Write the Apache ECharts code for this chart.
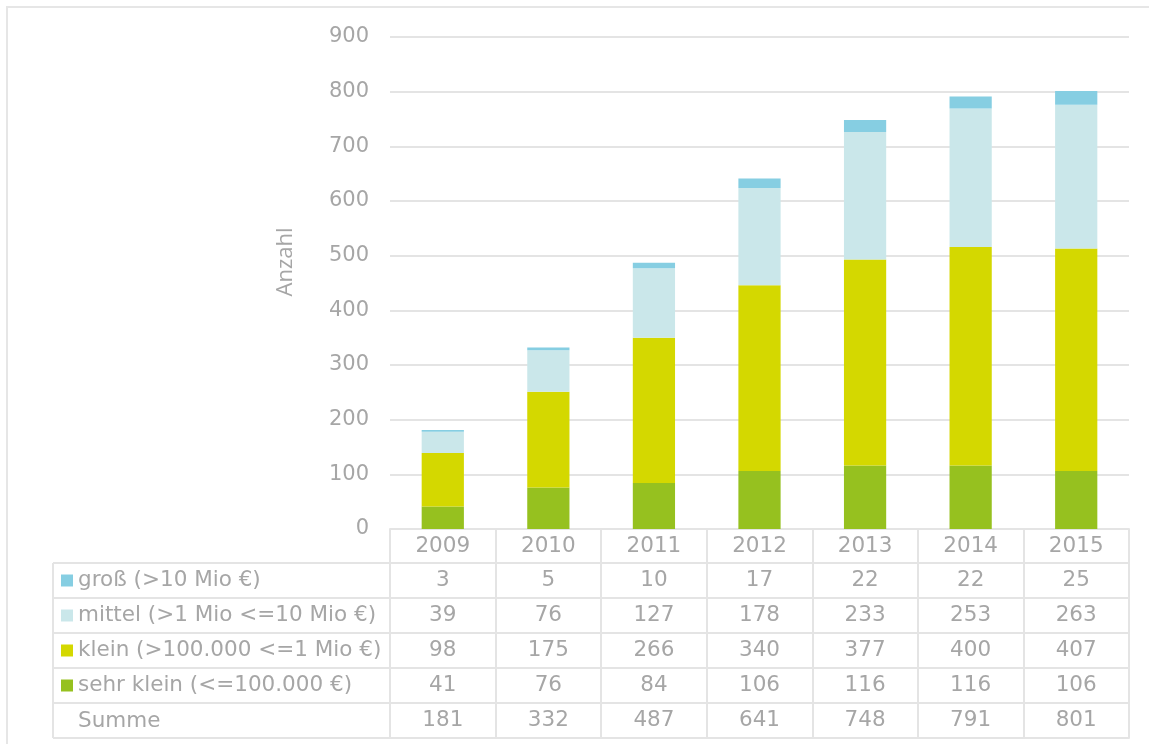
<!DOCTYPE html>
<html>
<head>
<meta charset="utf-8">
<script src="https://cdn.jsdelivr.net/npm/echarts@6/dist/echarts.min.js"></script>
<style>
  html, body { margin: 0; padding: 0; background: #ffffff; }
  #chart { width: 1149px; height: 744px; }
</style>
</head>
<body>
<div id="chart"></div>
<script>
// Anzahl nach Größenklasse und Jahr
const years = ['2009', '2010', '2011', '2012', '2013', '2014', '2015'];
const gross = [3, 5, 10, 17, 22, 22, 25];
const mittel = [39, 76, 127, 178, 233, 253, 263];
const klein = [98, 175, 266, 340, 377, 400, 407];
const sehrKlein = [41, 76, 84, 106, 116, 116, 106];
const yTicks = [0, 100, 200, 300, 400, 500, 600, 700, 800, 900];

const names = {
  gross: 'groß (>10 Mio €)',
  mittel: 'mittel (>1 Mio <=10 Mio €)',
  klein: 'klein (>100.000 <=1 Mio €)',
  sehrKlein: 'sehr klein (<=100.000 €)'
};
const colors = {
  gross: '#86cee2',
  mittel: '#cae7ea',
  klein: '#d4d800',
  sehrKlein: '#96c11f'
};

const summe = years.map((_, i) => gross[i] + mittel[i] + klein[i] + sehrKlein[i]);

const TEXT = '#a6a6a6';
const LINE = '#e4e4e4';
const FONT = 'DejaVu Sans';
const FS = 21.5;

// table rows below the plot: header row, then one row per series + sum
const rowH = 35;
const headerH = 34;
const tableRows = [gross, mittel, klein, sehrKlein, summe];

function rowAxis(values, offset, showLabel) {
  return {
    type: 'category',
    position: 'bottom',
    offset: offset,
    data: values.map(String),
    axisLine: { show: true, lineStyle: { color: LINE, width: 2 } },
    axisTick: {
      show: showLabel, interval: 0, alignWithLabel: false,
      length: rowH, lineStyle: { color: LINE, width: 2 }
    },
    axisLabel: {
      show: showLabel, interval: 0, margin: 7,
      color: TEXT, fontFamily: FONT, fontSize: FS, lineHeight: 21
    },
    splitLine: { show: false }
  };
}

const xAxes = [{
  type: 'category',
  position: 'bottom',
  data: years,
  axisLine: { show: true, lineStyle: { color: LINE, width: 2 } },
  axisTick: {
    show: true, interval: 0, alignWithLabel: false,
    length: headerH, lineStyle: { color: LINE, width: 2 }
  },
  axisLabel: {
    interval: 0, margin: 7,
    color: TEXT, fontFamily: FONT, fontSize: FS, lineHeight: 21
  }
}];
tableRows.forEach((vals, i) => xAxes.push(rowAxis(vals, headerH + rowH * i, true)));
xAxes.push(rowAxis(years, headerH + rowH * tableRows.length, false));

function bar(key, data) {
  return {
    name: names[key],
    type: 'bar',
    stack: 'total',
    xAxisIndex: 0,
    barWidth: '40%',
    data: data,
    itemStyle: { color: colors[key] }
  };
}

// left column of the table: frame lines and the "Summe" caption
const tableLeft = 53, tableColEnd = 390, tableTop = 529 + headerH;
const graphics = [
  {
    type: 'rect', silent: true,
    shape: { x: 7, y: 7, width: 1170, height: 770 },
    style: { fill: 'none', stroke: '#e6e6e6', lineWidth: 2 }
  },
  {
    type: 'line', silent: true,
    shape: { x1: tableLeft, y1: tableTop, x2: tableLeft, y2: tableTop + rowH * tableRows.length },
    style: { stroke: LINE, lineWidth: 2 }
  }
];
for (let i = 0; i <= tableRows.length; i++) {
  const y = tableTop + rowH * i;
  graphics.push({
    type: 'line', silent: true,
    shape: { x1: tableLeft, y1: y, x2: tableColEnd, y2: y },
    style: { stroke: LINE, lineWidth: 2 }
  });
}
graphics.push({
  type: 'text', silent: true,
  left: 78, top: tableTop + rowH * 4 + 7,
  style: { text: 'Summe', fill: TEXT, font: FS + 'px "DejaVu Sans"' }
});

const chart = echarts.init(document.getElementById('chart'), null, { renderer: 'canvas' });
chart.setOption({
  animation: false,
  backgroundColor: '#ffffff',
  grid: { left: 390, right: 20, top: 37, bottom: 215, containLabel: false },
  legend: {
    orient: 'vertical',
    left: 61,
    top: tableTop,
    padding: 0,
    itemGap: 0,
    itemWidth: 12,
    itemHeight: 12,
    icon: 'rect',
    selectedMode: false,
    data: [names.gross, names.mittel, names.klein, names.sehrKlein],
    textStyle: { color: TEXT, fontFamily: FONT, fontSize: FS, lineHeight: rowH, padding: [0, 0, 0, 0] }
  },
  xAxis: xAxes,
  yAxis: {
    type: 'value',
    min: yTicks[0],
    max: yTicks[yTicks.length - 1],
    interval: yTicks[1] - yTicks[0],
    name: 'Anzahl',
    nameLocation: 'middle',
    nameGap: 93,
    nameTextStyle: { color: TEXT, fontFamily: 'Open Sans', fontSize: 22, padding: [0, 0, 0, 42] },
    axisLine: { show: false },
    axisTick: { show: false },
    axisLabel: { color: TEXT, fontFamily: FONT, fontSize: 21, margin: 21 },
    splitLine: { lineStyle: { color: LINE, width: 2 } }
  },
  series: [
    bar('sehrKlein', sehrKlein),
    bar('klein', klein),
    bar('mittel', mittel),
    bar('gross', gross)
  ],
  graphic: graphics
});
</script>
</body>
</html>
